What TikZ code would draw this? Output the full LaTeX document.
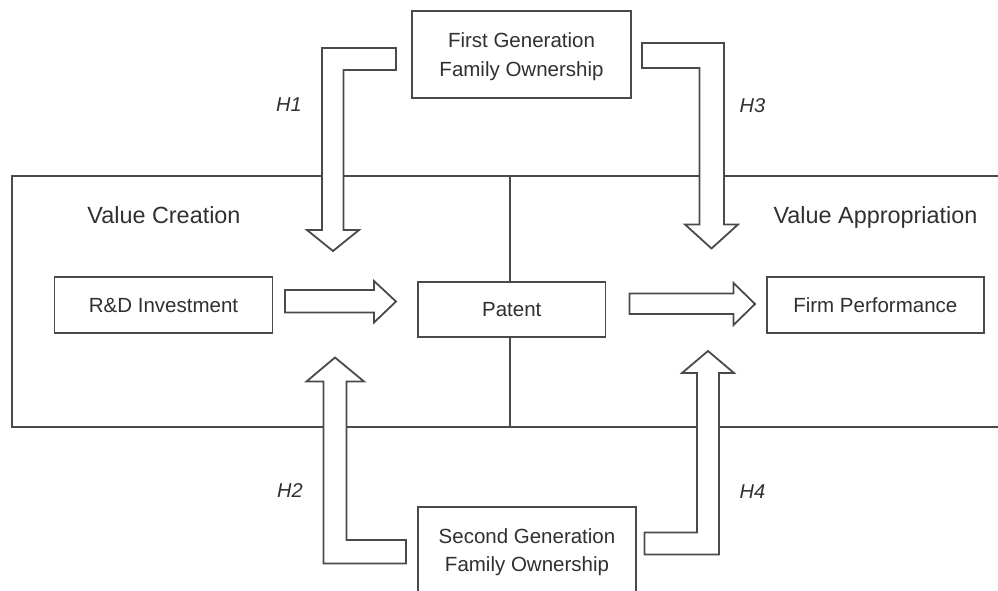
\documentclass[tikz,border=0pt]{standalone}
\usepackage{fontspec}
\setmainfont{Liberation Sans}
\definecolor{edge}{HTML}{4A4A4A}
\definecolor{ink}{HTML}{303030}
\begin{document}
\begin{tikzpicture}[x=1pt,y=-1pt,
  panel/.style={draw=edge, line width=2pt, inner sep=0pt},
  framebox/.style={draw=edge, line width=1.8pt, fill=white, inner sep=0pt,
    text=ink, font=\fontsize{20.5}{28.5}\selectfont,
    text height=14.8pt, text depth=0pt},
  twoline/.style={align=center, text height=43.3pt, text depth=0pt},
  heading/.style={text=ink, inner sep=0pt, font=\fontsize{23.4}{28}\selectfont},
  hyp/.style={text=ink, inner sep=0pt, font=\fontsize{20}{24}\selectfont\itshape,
    text height=14.3pt, text depth=0pt},
  blockarrow/.style={draw=edge, line width=1.8pt, fill=white, line join=miter}
]
\useasboundingbox (0,0) rectangle (998,591);
\clip (0,0) rectangle (998,591);

% the two stages
\node[panel, minimum width=498, minimum height=251] (creation) at (261,301) {};
\node[panel, minimum width=494, minimum height=251] (appropriation) at (757,301) {};
\node[heading, anchor=base] (vc) at (164,223.3) {Value Creation};
\node[heading, anchor=base] (va) at (875.5,223.3) {Value Appropriation};

% variables
\node[framebox, twoline, minimum width=219, minimum height=87] (first) at (521.5,54.5)
  {First Generation\\Family Ownership};
\node[framebox, twoline, minimum width=218, minimum height=86] (second) at (527,550)
  {Second Generation\\Family Ownership};
\node[framebox, minimum width=218, minimum height=56.6] (rd) at (163.5,305) {R\&D Investment};
\node[framebox, minimum width=187.5, minimum height=55.6] (patent) at (511.75,309.5) {Patent};
\node[framebox, minimum width=217.3, minimum height=56.6] (perf) at (875.3,305) {Firm Performance};

% main path: R&D -> Patent -> Performance
\draw[blockarrow] (285,290) -- (374,290) -- (374,281) -- (396,301.5)
  -- (374,322.5) -- (374,312.5) -- (285,312.5) -- cycle;
\draw[blockarrow] (629.5,293.5) -- (733.5,293.5) -- (733.5,283) -- (755,304)
  -- (733.5,325) -- (733.5,314) -- (629.5,314) -- cycle;

% moderating effects of family ownership
% H1
\draw[blockarrow] (396,48) -- (322,48) -- (322,230) -- (307,230) -- (333,251)
  -- (359,230) -- (343.5,230) -- (343.5,70) -- (396,70) -- cycle;
% H3
\draw[blockarrow] (642,43) -- (724,43) -- (724,224.5) -- (738,224.5) -- (711.5,248.5)
  -- (685,224.5) -- (699.5,224.5) -- (699.5,68) -- (642,68) -- cycle;
% H2
\draw[blockarrow] (406,540) -- (346.5,540) -- (346.5,381.5) -- (364,381.5) -- (335,357.5)
  -- (306.5,381.5) -- (323.5,381.5) -- (323.5,563.5) -- (406,563.5) -- cycle;
% H4
\draw[blockarrow] (644.5,532.5) -- (697,532.5) -- (697,373) -- (682,373) -- (708,351)
  -- (734,373) -- (719,373) -- (719,554.5) -- (644.5,554.5) -- cycle;

\node[hyp] (h1) at (289,104.7) {H1};
\node[hyp] (h2) at (290,490) {H2};
\node[hyp] (h3) at (752.5,105.8) {H3};
\node[hyp] (h4) at (752.5,491) {H4};
\end{tikzpicture}
\end{document}
